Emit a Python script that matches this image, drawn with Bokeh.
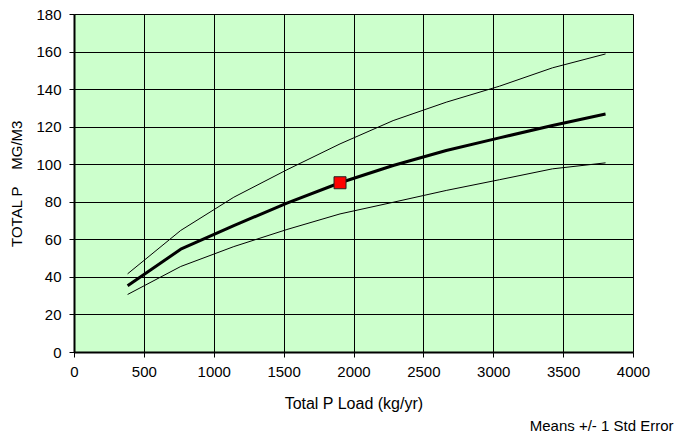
from bokeh.plotting import figure
from bokeh.models import SingleIntervalTicker, Title
from bokeh.embed import file_html
from bokeh.resources import INLINE

# Data
load = [380, 760, 1140, 1520, 1900, 2280, 2660, 3040, 3420, 3800]
upper = [41.9, 65.0, 82.7, 97.3, 111.1, 123.5, 133.3, 141.8, 151.6, 159.0]
mean = [35.5, 55.0, 67.6, 79.5, 90.4, 99.6, 107.6, 114.3, 120.9, 127.0]
lower = [30.9, 45.8, 56.4, 65.5, 73.8, 80.0, 86.3, 92.0, 97.8, 101.0]
point_x = [1900]
point_y = [90.4]

FONT = "Liberation Sans"

p = figure(width=676, height=433, x_range=(0, 4000), y_range=(0, 180),
           output_backend="svg", toolbar_location=None,
           min_border_left=74, min_border_top=14, min_border_right=43, min_border_bottom=10)

p.background_fill_color = "#CCFFCC"
p.border_fill_color = "white"
p.outline_line_color = "black"
p.outline_line_width = 1

p.xaxis.ticker = SingleIntervalTicker(interval=500, num_minor_ticks=0)
p.yaxis.ticker = SingleIntervalTicker(interval=20, num_minor_ticks=0)

for ax in (p.xaxis, p.yaxis):
    ax.axis_line_color = "black"
    ax.axis_line_width = 2
    ax.major_tick_line_color = "black"
    ax.major_tick_out = 5
    ax.major_tick_in = 0
    ax.minor_tick_line_color = None
    ax.major_label_text_font = FONT
    ax.major_label_text_font_size = "15px"
    ax.major_label_text_color = "black"
    ax.axis_label_text_font = FONT
    ax.axis_label_text_font_size = "15px"
    ax.axis_label_text_font_style = "normal"
    ax.axis_label_text_color = "black"

p.xaxis.axis_label = "Total P Load (kg/yr)"
p.xaxis.axis_label_text_font_size = "16px"
p.yaxis.axis_label = "TOTAL P\u00a0\u00a0\u00a0\u00a0MG/M3"
p.xaxis.major_label_standoff = 9
p.yaxis.major_label_standoff = 8
p.xaxis.axis_label_standoff = 15
p.yaxis.axis_label_standoff = 8

p.xgrid.grid_line_color = "black"
p.ygrid.grid_line_color = "black"
p.xgrid.grid_line_width = 1
p.ygrid.grid_line_width = 1

p.line(load, upper, line_color="black", line_width=1)
p.line(load, lower, line_color="black", line_width=1)
p.line(load, mean, line_color="black", line_width=3)
p.scatter(point_x, point_y, marker="square", size=12, fill_color="red", line_color="#222222", line_width=1)

note = Title(text="Means +/- 1 Std Error", align="right", offset=-40,
             text_font=FONT, text_font_size="15px", text_font_style="normal",
             text_color="black", standoff=0)
p.add_layout(note, "below")

open("out.html", "w").write(file_html(p, INLINE))
